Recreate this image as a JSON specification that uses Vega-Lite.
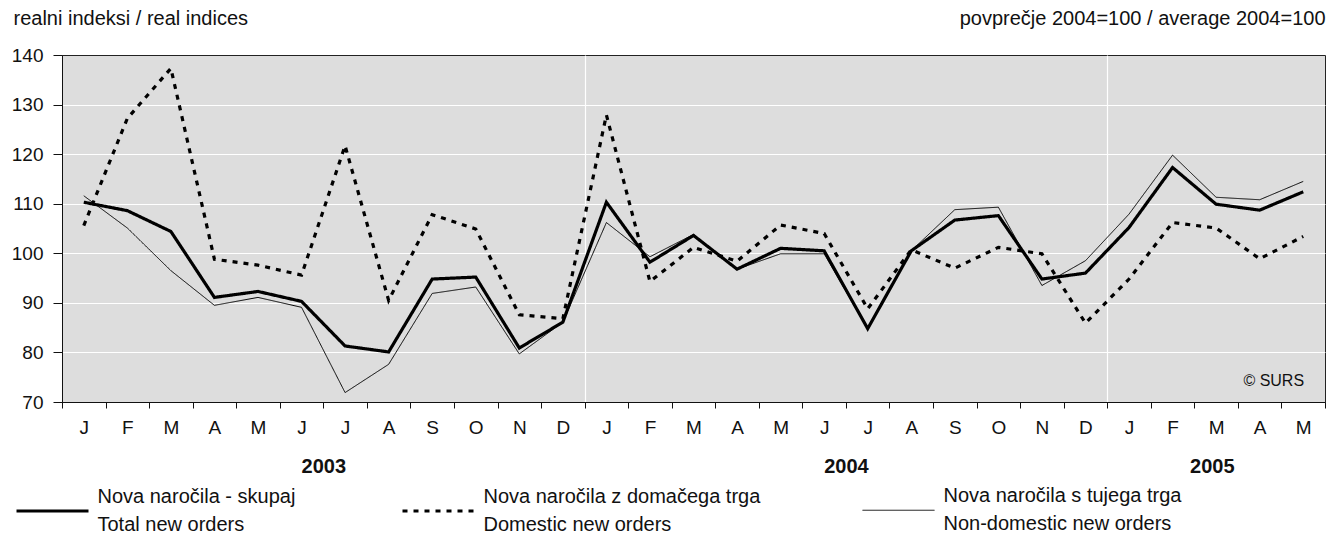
{
  "$schema": "https://vega.github.io/schema/vega-lite/v6.json",
  "width": 1263,
  "height": 347,
  "autosize": {"type": "none"},
  "padding": {"left": 62, "top": 55, "right": 17, "bottom": 132},
  "background": "white",
  "config": {
    "font": "Liberation Sans",
    "view": {"fill": "#dddddd", "stroke": "#222222", "strokeWidth": 1},
    "axis": {"labelColor": "#111111", "titleColor": "#111111", "domainColor": "#111111", "tickColor": "#111111", "labelFontSize": 19, "gridColor": "#ffffff", "gridWidth": 1.2},
    "style": {"guide-label": {"lineHeight": 28}}
  },
  "datasets": {
    "orders": [
      {"i": 0, "total": 110.3, "domestic": 105.6, "foreign": 111.6},
      {"i": 1, "total": 108.6, "domestic": 127.2, "foreign": 105.1},
      {"i": 2, "total": 104.4, "domestic": 137.3, "foreign": 96.5},
      {"i": 3, "total": 91.1, "domestic": 98.8, "foreign": 89.5},
      {"i": 4, "total": 92.3, "domestic": 97.6, "foreign": 91.1},
      {"i": 5, "total": 90.3, "domestic": 95.6, "foreign": 89.1},
      {"i": 6, "total": 81.3, "domestic": 121.7, "foreign": 71.9},
      {"i": 7, "total": 80.1, "domestic": 90.5, "foreign": 77.6},
      {"i": 8, "total": 94.8, "domestic": 107.8, "foreign": 91.9},
      {"i": 9, "total": 95.2, "domestic": 104.9, "foreign": 93.2},
      {"i": 10, "total": 80.9, "domestic": 87.6, "foreign": 79.7},
      {"i": 11, "total": 86.1, "domestic": 86.8, "foreign": 86.1},
      {"i": 12, "total": 110.3, "domestic": 127.9, "foreign": 106.2},
      {"i": 13, "total": 98.2, "domestic": 94.3, "foreign": 99.3},
      {"i": 14, "total": 103.6, "domestic": 101.2, "foreign": 103.8},
      {"i": 15, "total": 96.8, "domestic": 98.4, "foreign": 96.8},
      {"i": 16, "total": 101.0, "domestic": 105.7, "foreign": 99.9},
      {"i": 17, "total": 100.5, "domestic": 104.0, "foreign": 99.9},
      {"i": 18, "total": 84.8, "domestic": 88.8, "foreign": 84.8},
      {"i": 19, "total": 100.5, "domestic": 100.7, "foreign": 100.5},
      {"i": 20, "total": 106.7, "domestic": 97.0, "foreign": 108.8},
      {"i": 21, "total": 107.6, "domestic": 101.2, "foreign": 109.3},
      {"i": 22, "total": 94.8, "domestic": 99.9, "foreign": 93.5},
      {"i": 23, "total": 96.0, "domestic": 85.9, "foreign": 98.5},
      {"i": 24, "total": 105.2, "domestic": 94.8, "foreign": 107.9},
      {"i": 25, "total": 117.3, "domestic": 106.2, "foreign": 119.8},
      {"i": 26, "total": 109.9, "domestic": 105.1, "foreign": 111.3},
      {"i": 27, "total": 108.7, "domestic": 98.9, "foreign": 110.8},
      {"i": 28, "total": 112.4, "domestic": 103.4, "foreign": 114.5}
    ]
  },
  "resolve": {"axis": {"x": "independent", "y": "independent"}},
  "layer": [
    {
      "data": {"name": "orders"},
      "transform": [{"fold": ["total", "domestic", "foreign"], "as": ["series", "value"]}],
      "mark": {"type": "line", "color": "#000000", "strokeCap": "butt", "strokeJoin": "miter"},
      "encoding": {
        "x": {
          "field": "i", "type": "quantitative",
          "scale": {"domain": [-0.5, 28.5], "nice": false, "zero": false},
          "axis": {
            "title": null,
            "values": [-0.5, 0.5, 1.5, 2.5, 3.5, 4.5, 5.5, 6.5, 7.5, 8.5, 9.5, 10.5, 11.5, 12.5, 13.5, 14.5, 15.5, 16.5, 17.5, 18.5, 19.5, 20.5, 21.5, 22.5, 23.5, 24.5, 25.5, 26.5, 27.5, 28.5],
            "labelExpr": "datum.value > 28 ? '' : ['J','F','M','A','M','J','J','A','S','O','N','D'][(datum.value + 0.5) % 12]",
            "labelOffset": 21.79,
            "labelFlush": false,
            "labelOverlap": false,
            "labelBound": false,
            "tickSize": 6,
            "labelPadding": 10,
            "grid": true,
            "gridOpacity": {"condition": {"test": "datum.value == 11.5 || datum.value == 23.5", "value": 1}, "value": 0}
          }
        },
        "y": {
          "field": "value", "type": "quantitative",
          "scale": {"domain": [70, 140], "nice": false, "zero": false},
          "axis": {
            "values": [70, 80, 90, 100, 110, 120, 130, 140],
            "title": "realni indeksi / real indices",
            "titleAngle": 0, "titleAlign": "left", "titleBaseline": "middle",
            "titleX": -49, "titleY": -37, "titleFontSize": 20, "titleFontWeight": "normal",
            "tickSize": 9, "labelPadding": 10,
            "grid": true,
            "gridOpacity": {"condition": {"test": "datum.value > 70 && datum.value < 140", "value": 1}, "value": 0}
          }
        },
        "strokeDash": {
          "field": "series", "type": "nominal",
          "scale": {"domain": ["total", "domestic", "foreign"], "range": [[1, 0], [5, 6], [1, 0]]},
          "legend": {
            "title": null, "orient": "none", "legendX": -47.5, "legendY": 418,
            "direction": "horizontal", "columns": 3, "gridAlign": "each", "columnPadding": 100,
            "symbolType": "stroke", "symbolSize": 5184, "symbolStrokeColor": "#000000",
            "labelFontSize": 20, "labelOffset": 7, "labelLimit": 500, "labelColor": "#111111", "padding": 0,
            "labelBaseline": "line-bottom",
            "labelExpr": "datum.label == 'total' ? ['Nova naročila - skupaj', 'Total new orders'] : datum.label == 'domestic' ? ['Nova naročila z domačega trga', 'Domestic new orders'] : ['Nova naročila s tujega trga', 'Non-domestic new orders']"
          }
        },
        "strokeWidth": {
          "field": "series", "type": "nominal",
          "scale": {"type": "ordinal", "domain": ["total", "domestic", "foreign"], "range": [3.2, 3.2, 1]},
          "legend": {
            "title": null, "orient": "none", "legendX": -47.5, "legendY": 418,
            "direction": "horizontal", "columns": 3, "gridAlign": "each", "columnPadding": 100,
            "symbolType": "stroke", "symbolSize": 5184, "symbolStrokeColor": "#000000",
            "labelFontSize": 20, "labelOffset": 7, "labelLimit": 500, "labelColor": "#111111", "padding": 0,
            "labelBaseline": "line-bottom",
            "labelExpr": "datum.label == 'total' ? ['Nova naročila - skupaj', 'Total new orders'] : datum.label == 'domestic' ? ['Nova naročila z domačega trga', 'Domestic new orders'] : ['Nova naročila s tujega trga', 'Non-domestic new orders']"
          }
        }
      }
    },
    {
      "data": {"values": [{"label": "© SURS"}]},
      "mark": {"type": "text", "align": "right", "baseline": "middle", "fontSize": 16, "color": "#111111"},
      "encoding": {
        "text": {"field": "label", "type": "nominal"},
        "x": {
          "datum": 28.02, "type": "quantitative",
          "scale": {"domain": [-0.5, 28.5], "nice": false, "zero": false},
          "axis": {
            "orient": "bottom", "title": null,
            "values": [5.5, 17.5, 25.9],
            "labelExpr": "datum.value < 12 ? '2003' : datum.value < 24 ? '2004' : '2005'",
            "ticks": false, "tickSize": 0, "domain": false, "grid": false,
            "labelFontWeight": "bold", "labelFontSize": 20, "labelPadding": 54,
            "labelFlush": false, "labelOverlap": false, "labelBound": false
          }
        },
        "y": {
          "datum": 74.2, "type": "quantitative",
          "scale": {"domain": [70, 140], "nice": false, "zero": false},
          "axis": {
            "orient": "right", "labels": false, "ticks": false, "domain": false, "grid": false,
            "title": "povprečje 2004=100 / average 2004=100",
            "titleAngle": 0, "titleAlign": "right", "titleBaseline": "middle",
            "titleX": 0, "titleY": -37, "titleFontSize": 20, "titleFontWeight": "normal"
          }
        }
      }
    }
  ]
}
